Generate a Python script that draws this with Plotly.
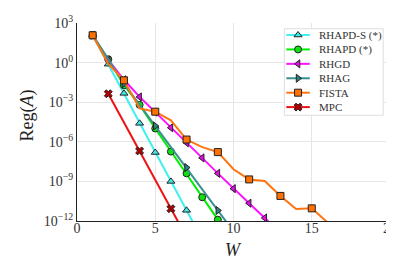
import plotly.graph_objects as go

# log10 of Reg(A) per W
W_rhapds = [1, 2, 3, 4, 5, 6, 7, 8]
L_rhapds = [2.07, -0.12, -2.33, -4.6, -6.81, -9.0, -11.19, -13.4]

W_rhapd = [1, 2, 3, 4, 5, 6, 7, 8, 9, 10]
L_rhapd = [2.07, 0.25, -1.72, -3.2, -4.99, -6.74, -8.39, -10.2, -11.9, -13.6]

W_rhgd = [1, 2, 3, 4, 5, 6, 7, 8, 9, 10, 11, 12, 13]
L_rhgd = [2.07, 0.2, -1.3, -2.6, -3.75, -4.93, -6.07, -7.22, -8.39, -9.55, -10.65, -11.77, -12.9]

W_rhag = [1, 2, 3, 4, 5, 6, 7, 8, 9, 10]
L_rhag = [2.07, 0.2, -1.6, -3.2, -4.8, -6.4, -7.95, -9.6, -11.2, -12.8]

W_fista = [1, 2, 3, 4, 5, 6, 7, 8, 9, 10, 11, 12, 13, 14, 15, 16]
L_fista = [2.07, -0.1, -1.34, -3.47, -3.72, -4.37, -5.83, -6.4, -6.78, -8.08,
           -8.85, -8.97, -10.1, -11.09, -11.04, -12.1]

W_mpc = [2, 4, 6, 8]
L_mpc = [-2.36, -6.69, -11.07, -15.4]

x_ticks = [0, 5, 10, 15, 20]
y_tick_exp = [3, 0, -3, -6, -9, -12]

names = ["RHAPD-S (*)", "RHAPD (*)", "RHGD", "RHAG", "FISTA", "MPC"]
colors = ["#3ff0f0", "#00ee00", "#ff10ff", "#3a9090", "#ff7410", "#ee1111"]
mfill = ["#40e8e8", "#10e010", "#e010e0", "#2f8080", "#ff7000", "#b00000"]
symbols = ["triangle-up", "circle", "triangle-left", "triangle-right", "square", "x"]
mark_every = [1, 1, 1, 2, 2, 1]

series = [(W_rhapds, L_rhapds), (W_rhapd, L_rhapd), (W_rhgd, L_rhgd),
          (W_rhag, L_rhag), (W_fista, L_fista), (W_mpc, L_mpc)]

serif = "Liberation Serif, Times New Roman, Times, serif"

# plot-area pixel geometry (used only for legend / title placement)
PX0, PX1, PY0, PY1 = 69, 389, 7, 213


def px_to_x(px):
    return (px - PX0) / (PX1 - PX0) * 20


def py_to_y(py):
    return 10 ** (3 - (py - PY0) / (PY1 - PY0) * 15)


fig = go.Figure()
for i, (w, l) in enumerate(series):
    y = [10 ** v for v in l]
    fig.add_trace(go.Scatter(x=w, y=y, mode="lines", line=dict(color=colors[i], width=2),
                             showlegend=False, hoverinfo="skip"))
    step = mark_every[i]
    fig.add_trace(go.Scatter(x=w[::step], y=y[::step], mode="markers",
                             marker=dict(symbol=symbols[i], size=7, color=mfill[i],
                                         line=dict(color="#222", width=1)),
                             showlegend=False))

# custom legend (box on main axes, samples on an overlay axis in pixels)
leg_left, leg_right, leg_top, leg_bottom = 281, 382, 13, 103
row0, row_gap = 19.5, 15
line_x0, line_x1, text_x = 283, 307, 314
fig.add_shape(type="rect", xref="x", yref="y", x0=px_to_x(leg_left), x1=px_to_x(leg_right),
              y0=py_to_y(leg_bottom), y1=py_to_y(leg_top), line=dict(color="#dddddd", width=1),
              fillcolor="white", layer="between")
for i, name in enumerate(names):
    ry = row0 + i * row_gap
    fig.add_trace(go.Scatter(x=[line_x0, line_x1], y=[ry, ry], xaxis="x2", yaxis="y2",
                             mode="lines", line=dict(color=colors[i], width=2),
                             showlegend=False, hoverinfo="skip"))
    fig.add_trace(go.Scatter(x=[(line_x0 + line_x1) / 2], y=[ry], xaxis="x2", yaxis="y2",
                             mode="markers",
                             marker=dict(symbol=symbols[i], size=7, color=mfill[i],
                                         line=dict(color="#222", width=1)),
                             showlegend=False, hoverinfo="skip"))
    fig.add_annotation(x=text_x, y=ry, xref="x2", yref="y2", text=name, showarrow=False,
                       xanchor="left", yanchor="middle",
                       font=dict(family=serif, size=11, color="#333"))

fig.add_annotation(x=(18 - PX0) / 320, y=(PY1 - 103) / 206, xref="paper", yref="paper",
                   text="Reg(<i>A</i>)", textangle=-90,
                   showarrow=False, xanchor="center", yanchor="middle",
                   font=dict(family=serif, size=18, color="#222"))
fig.add_annotation(x=0.5, y=(PY1 - 243) / 206, xref="paper", yref="paper", text="<i>W</i>",
                   showarrow=False, xanchor="center", yanchor="middle",
                   font=dict(family=serif, size=18, color="#222"))

fig.update_layout(
    width=394, height=256,
    margin=dict(l=69, r=5, t=7, b=43),
    paper_bgcolor="white", plot_bgcolor="white",
    font=dict(family=serif, size=14, color="#222"),
    showlegend=False,
    xaxis=dict(range=[0, 20], tickvals=x_ticks, ticktext=[str(v) for v in x_ticks],
               showgrid=True, gridcolor="#e6e6e6", gridwidth=1,
               zeroline=False, showline=True, linecolor="#222", linewidth=1,
               ticks="", ticklabelstandoff=-6, ticklabeloverflow="allow",
               tickfont=dict(size=14, family=serif, color="#333")),
    yaxis=dict(type="log", range=[-12, 3.0001], tickvals=[10 ** e for e in y_tick_exp],
               ticktext=["10<sup>%s</sup>" % (str(e).replace("-", "−")) for e in y_tick_exp],
               showgrid=True, gridcolor="#e6e6e6", gridwidth=1,
               zeroline=False, showline=True, linecolor="#222", linewidth=1,
               ticks="", ticklabeloverflow="allow",
               tickfont=dict(size=14, family=serif, color="#333")),
    xaxis2=dict(overlaying="x", range=[PX0, PX1], visible=False, fixedrange=True),
    yaxis2=dict(overlaying="y", range=[PY1, PY0], visible=False, fixedrange=True),
)

fig.write_html("out.html")
